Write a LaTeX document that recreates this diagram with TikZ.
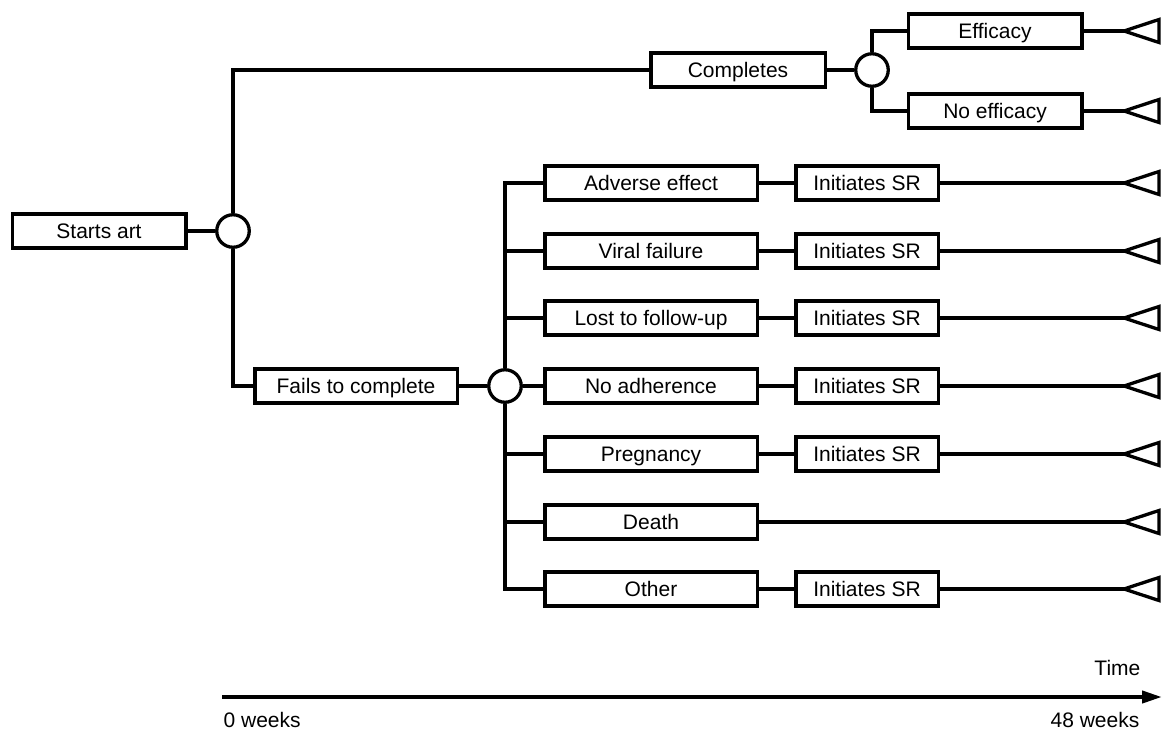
\documentclass[tikz,border=0pt]{standalone}
\usepackage{fontspec}
\setmainfont{Liberation Sans}
\usetikzlibrary{positioning,shapes.geometric,arrows.meta}

\newcommand{\lbl}{\fontsize{21}{25}\selectfont}

\tikzset{
  box/.style={draw, line width=3.5pt, rectangle, minimum height=34pt, inner sep=0pt,
    font=\lbl, text height=15pt, text depth=0pt},
  chance/.style={draw, line width=3.3pt, circle, minimum size=32.5pt, inner sep=0pt},
  term/.style={draw, line width=3.3pt, isosceles triangle, isosceles triangle stretches,
    shape border rotate=180, minimum height=35pt, minimum width=23pt,
    inner sep=0pt, outer sep=0pt, anchor=apex},
  elbow/.style={to path={|- (\tikztotarget)}},
  every edge/.style={draw, line width=3.3pt},
  timeline/.style={line width=4pt, -{Triangle[length=20pt,width=12pt]}}
}

\begin{document}
\begin{tikzpicture}[x=1pt, y=-1pt, line width=3.3pt, on grid]
  \useasboundingbox (0,0) rectangle (1165,731);

  % root and first split
  \node[box, minimum width=173.5pt] (start) at (99,231)                  {Starts art};
  \node[chance]                   (c1)    [right=134pt of start]            {};
  \node[box, minimum width=174.5pt] (comp)  [above right=161pt and 505pt of c1] {Completes};
  \node[chance]                   (c2)    [right=134pt of comp]             {};
  \node[box, minimum width=173.5pt] (eff)   [above right=39pt and 123pt of c2] {Efficacy};
  \node[box, minimum width=173.5pt] (noeff) [below right=41pt and 123pt of c2] {No efficacy};
  \node[box, minimum width=202.5pt] (fail)  [below right=155pt and 123pt of c1] {Fails to complete};
  \node[chance]                   (c3)    [right=149pt of fail]             {};

  % reasons
  \node[box, minimum width=212.5pt] (adh)   [right=146pt of c3]  {No adherence};
  \node[box, minimum width=212.5pt] (lost)  [above=68pt of adh]  {Lost to follow-up};
  \node[box, minimum width=212.5pt] (viral) [above=67pt of lost] {Viral failure};
  \node[box, minimum width=212.5pt] (adv)   [above=68pt of viral] {Adverse effect};
  \node[box, minimum width=212.5pt] (preg)  [below=68pt of adh]  {Pregnancy};
  \node[box, minimum width=212.5pt] (death) [below=68pt of preg] {Death};
  \node[box, minimum width=212.5pt] (other) [below=67pt of death] {Other};

  % switch
  \node[box, minimum width=142.5pt] (sr1) [right=216pt of adv]   {Initiates SR};
  \node[box, minimum width=142.5pt] (sr2) [right=216pt of viral] {Initiates SR};
  \node[box, minimum width=142.5pt] (sr3) [right=216pt of lost]  {Initiates SR};
  \node[box, minimum width=142.5pt] (sr4) [right=216pt of adh]   {Initiates SR};
  \node[box, minimum width=142.5pt] (sr5) [right=216pt of preg]  {Initiates SR};
  \node[box, minimum width=142.5pt] (sr7) [right=216pt of other] {Initiates SR};

  % end points
  \node[term] (e1) [right=129pt of eff, anchor=apex]   {};
  \node[term] (e2) [right=129pt of noeff, anchor=apex] {};
  \node[term] (r1) [right=257pt of sr1, anchor=apex]   {};
  \node[term] (r2) [right=257pt of sr2, anchor=apex]   {};
  \node[term] (r3) [right=257pt of sr3, anchor=apex]   {};
  \node[term] (r4) [right=257pt of sr4, anchor=apex]   {};
  \node[term] (r5) [right=257pt of sr5, anchor=apex]   {};
  \node[term] (r6) [right=473pt of death, anchor=apex] {};
  \node[term] (r7) [right=257pt of sr7, anchor=apex]   {};

  \path (start) edge         (c1)
        (c1)    edge [elbow] (comp)
                edge [elbow] (fail)
        (comp)  edge         (c2)
        (c2)    edge [elbow] (eff)
                edge [elbow] (noeff)
        (eff)   edge         (e1)
        (noeff) edge         (e2)
        (fail)  edge         (c3)
        (c3)    edge [elbow] (adv)
                edge [elbow] (viral)
                edge [elbow] (lost)
                edge         (adh)
                edge [elbow] (preg)
                edge [elbow] (death)
                edge [elbow] (other)
        (adv)   edge (sr1)  (sr1) edge (r1)
        (viral) edge (sr2)  (sr2) edge (r2)
        (lost)  edge (sr3)  (sr3) edge (r3)
        (adh)   edge (sr4)  (sr4) edge (r4)
        (preg)  edge (sr5)  (sr5) edge (r5)
        (death) edge (r6)
        (other) edge (sr7)  (sr7) edge (r7)
        ;

  % time axis
  \coordinate (t0) at (222,697);
  \coordinate (t1) at (1162,697);
  \draw[timeline] (t0) -- (t1);
  \node[font=\lbl, inner sep=0pt, anchor=base west] (w0)   at (222,727)  {0 weeks};
  \node[font=\lbl, inner sep=0pt, anchor=base east] (w48)  at (1141,727) {48 weeks};
  \node[font=\lbl, inner sep=0pt, anchor=base east] (time) at (1142,675) {Time};
\end{tikzpicture}
\end{document}
